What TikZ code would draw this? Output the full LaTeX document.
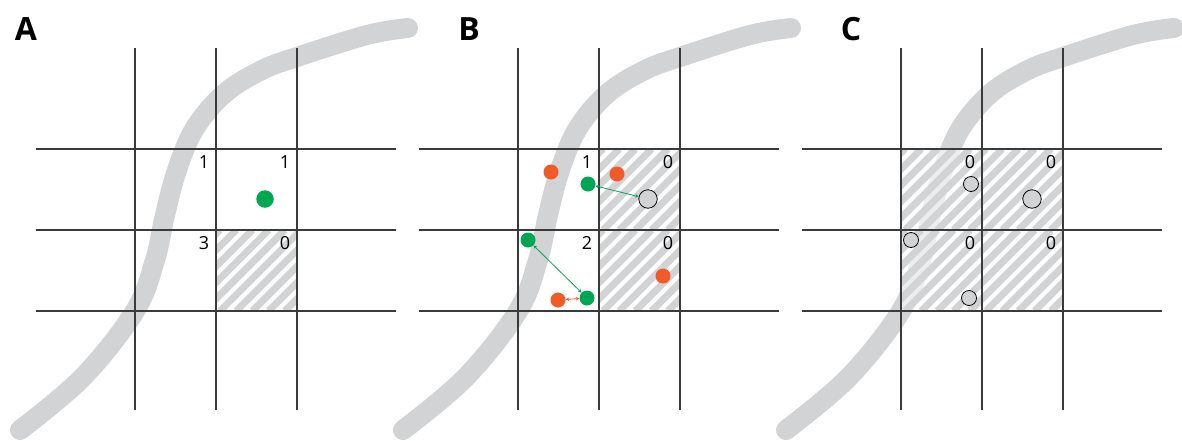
\documentclass[tikz,border=0pt]{standalone}
\usepackage{fontspec}
\setmainfont{Open Sans}
\usetikzlibrary{arrows.meta}
\definecolor{curvegray}{RGB}{209,211,212}
\definecolor{gridgray}{RGB}{58,58,58}
\definecolor{dotgreen}{RGB}{0,166,81}
\definecolor{dotorange}{RGB}{241,90,41}

\tikzset{
  sband/.style={line width=20pt, curvegray, line cap=round, line join=round},
  gridline/.style={line width=1.4pt, gridgray},
  hatchline/.style={line width=7pt, curvegray},
  count/.style={font=\fontsize{18}{20}\selectfont, inner sep=0pt},
  panellabel/.style={font=\bfseries\fontsize{32}{34}\selectfont, inner sep=0pt},
  gdot/.style={circle, fill=dotgreen, inner sep=0pt, minimum size=15pt},
  odot/.style={circle, fill=dotorange, inner sep=0pt, minimum size=15pt},
  vdot/.style={circle, fill=curvegray, draw=black, line width=0.8pt, inner sep=0pt, minimum size=15pt},
  link/.style={line width=0.8pt, {Stealth[length=3.5pt,width=3.5pt]}-{Stealth[length=3.5pt,width=3.5pt]}},
}

% grey S-shaped band
\newcommand\sband{%
  \draw[sband] plot[smooth, tension=0.6] coordinates
    {(20,430) (83,377) (135,311) (155,260) (165,215) (177,170) (195,128)
     (225,93) (262,70) (297,57) (367,35) (408,28)};}

% 3x3 lattice of lines
\newcommand\cellgrid{%
  \foreach \gx in {135,216,297} \draw[gridline] (\gx,48) -- (\gx,410);
  \foreach \gy in {149,230,311} \draw[gridline] (36,\gy) -- (396,\gy);}

% diagonally hatched cell with top-left corner (#1,#2)
\newcommand\hatchcell[2]{%
  \begin{scope}
    \clip (#1,#2) rectangle ++(81,81);
    \fill[white, opacity=0.6] (#1,#2) rectangle ++(81,81);
    \foreach \k in {0,...,10}
      \draw[hatchline] ({#1-81+\k*16.2+4},{#2+81}) -- ++(81,-81);
  \end{scope}}

\begin{document}
\begin{tikzpicture}[x=1pt, y=-1pt]
  \useasboundingbox (0,0) rectangle (1182,440);

  % bands
  \sband
  \begin{scope}[xshift=383pt]\sband\end{scope}
  \begin{scope}[xshift=766pt]\sband\end{scope}

  % hatched cells
  \hatchcell{216}{230}
  \begin{scope}[xshift=383pt]
    \hatchcell{216}{149}
    \hatchcell{216}{230}
  \end{scope}
  \begin{scope}[xshift=766pt]
    \hatchcell{135}{149}
    \hatchcell{216}{149}
    \hatchcell{135}{230}
    \hatchcell{216}{230}
  \end{scope}

  % grids
  \cellgrid
  \begin{scope}[xshift=383pt]\cellgrid\end{scope}
  \begin{scope}[xshift=766pt]\cellgrid\end{scope}

  % panel labels
  \node[panellabel] (labA) at (26,29) {A};
  \node[panellabel] (labB) at (469,29) {B};
  \node[panellabel] (labC) at (851,29) {C};

  % panel A
  \node[count] (nA1) at (204,162) {1};
  \node[count] (nA2) at (285,162) {1};
  \node[count] (nA3) at (204,243) {3};
  \node[count] (nA4) at (285,243) {0};
  \node[gdot, minimum size=17.5pt] (gA) at (265,199) {};

  % panel B
  \node[count] (nB1) at (587,162) {1};
  \node[count] (nB2) at (668,162) {0};
  \node[count] (nB3) at (587,243) {2};
  \node[count] (nB4) at (668,243) {0};
  \node[odot] (oB1) at (551,172) {};
  \node[odot] (oB2) at (617,174) {};
  \node[gdot] (gB1) at (588,184) {};
  \node[vdot, minimum size=18.5pt] (vB1) at (648,199) {};
  \node[gdot] (gB2) at (528,240) {};
  \node[odot] (oB3) at (663,276) {};
  \node[odot] (oB4) at (558,300) {};
  \node[gdot] (gB3) at (587,298) {};
  \draw[link, dotgreen] (gB1) -- (vB1);
  \draw[link, dotgreen] (gB2) -- (gB3);
  \draw[link, dotorange] (oB4) -- (gB3);

  % panel C
  \node[count] (nC1) at (970,162) {0};
  \node[count] (nC2) at (1051,162) {0};
  \node[count] (nC3) at (970,243) {0};
  \node[count] (nC4) at (1051,243) {0};
  \node[vdot] (vC1) at (971,184) {};
  \node[vdot, minimum size=18.5pt] (vC2) at (1032,199) {};
  \node[vdot] (vC3) at (911,240) {};
  \node[vdot] (vC4) at (969,298) {};
\end{tikzpicture}
\end{document}
